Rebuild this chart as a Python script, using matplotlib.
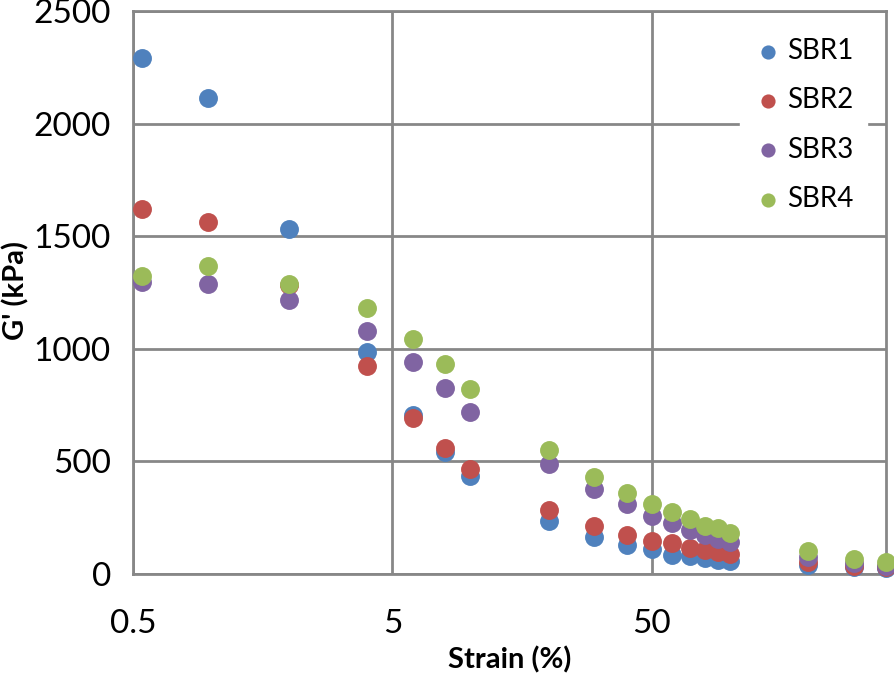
import matplotlib
matplotlib.use("Agg")
import matplotlib.pyplot as plt
from matplotlib.ticker import NullLocator

# Strain (%) values for each measuring point
strain = [0.54, 0.97, 2, 4, 6, 8, 10, 20, 30, 40, 50, 60, 70, 80, 90, 100, 200, 300, 400]

# G' (kPa) per compound
sbr1 = [2291, 2115, 1532, 987, 705, 543, 437, 237, 166, 129, 110, 84, 80, 70, 62, 59, 40, 31, 27]
sbr2 = [1619, 1564, 1283, 924, 694, 561, 466, 284, 213, 173, 148, 136, 114, 107, 99, 89, 55, 36, 31]
sbr3 = [1298, 1288, 1215, 1079, 943, 825, 721, 487, 376, 311, 259, 225, 195, 173, 154, 141, 77, 47, 36]
sbr4 = [1323, 1368, 1289, 1180, 1043, 932, 820, 551, 432, 361, 309, 274, 243, 215, 203, 183, 103, 65, 52]

labels = ["SBR1", "SBR2", "SBR3", "SBR4"]
colors = ["#4F81BD", "#C0504D", "#8064A2", "#9BBB59"]

plt.rcParams["font.family"] = ["Lato", "DejaVu Sans"]

fig = plt.figure(figsize=(8.95, 6.78), dpi=100)
ax = fig.add_axes([133 / 895, 104 / 678, 753 / 895, 563 / 678])

for vals, lab, col in zip([sbr1, sbr2, sbr3, sbr4], labels, colors):
    ax.scatter(strain, vals, s=185, color=col, label=lab, zorder=3,
               clip_on=False, linewidths=0)

ax.set_xscale("log")
ax.set_xlim(0.5, 400)
ax.set_ylim(0, 2500)
ax.set_xticks([0.5, 5, 50])
ax.set_xticklabels(["0.5", "5", "50"])
ax.xaxis.set_minor_locator(NullLocator())
ax.set_yticks([0, 500, 1000, 1500, 2000, 2500])

grid_col = "#878787"
ax.grid(True, color=grid_col, linewidth=2, zorder=0)
ax.set_axisbelow(True)
for sp in ax.spines.values():
    sp.set_color(grid_col)
    sp.set_linewidth(2)

ax.tick_params(axis="both", length=0, labelsize=24)
ax.tick_params(axis="x", pad=25)
ax.tick_params(axis="y", pad=16)

ax.set_xlabel("Strain (%)", fontsize=21, fontweight="bold")
ax.xaxis.set_label_coords(0.5, -0.128)
ax.set_ylabel("G' (kPa)", fontsize=21, fontweight="bold")
ax.yaxis.set_label_coords(-0.137, 0.504)

leg = ax.legend(loc="upper left", bbox_to_anchor=(0.806, 0.977), fontsize=20,
                frameon=True, fancybox=False, framealpha=1, edgecolor="white",
                handletextpad=0.2, labelspacing=0.84, markerscale=0.75,
                borderpad=0.5, handlelength=1.0, borderaxespad=0)
leg.set_zorder(5)

fig.savefig("out.png", dpi=100)
